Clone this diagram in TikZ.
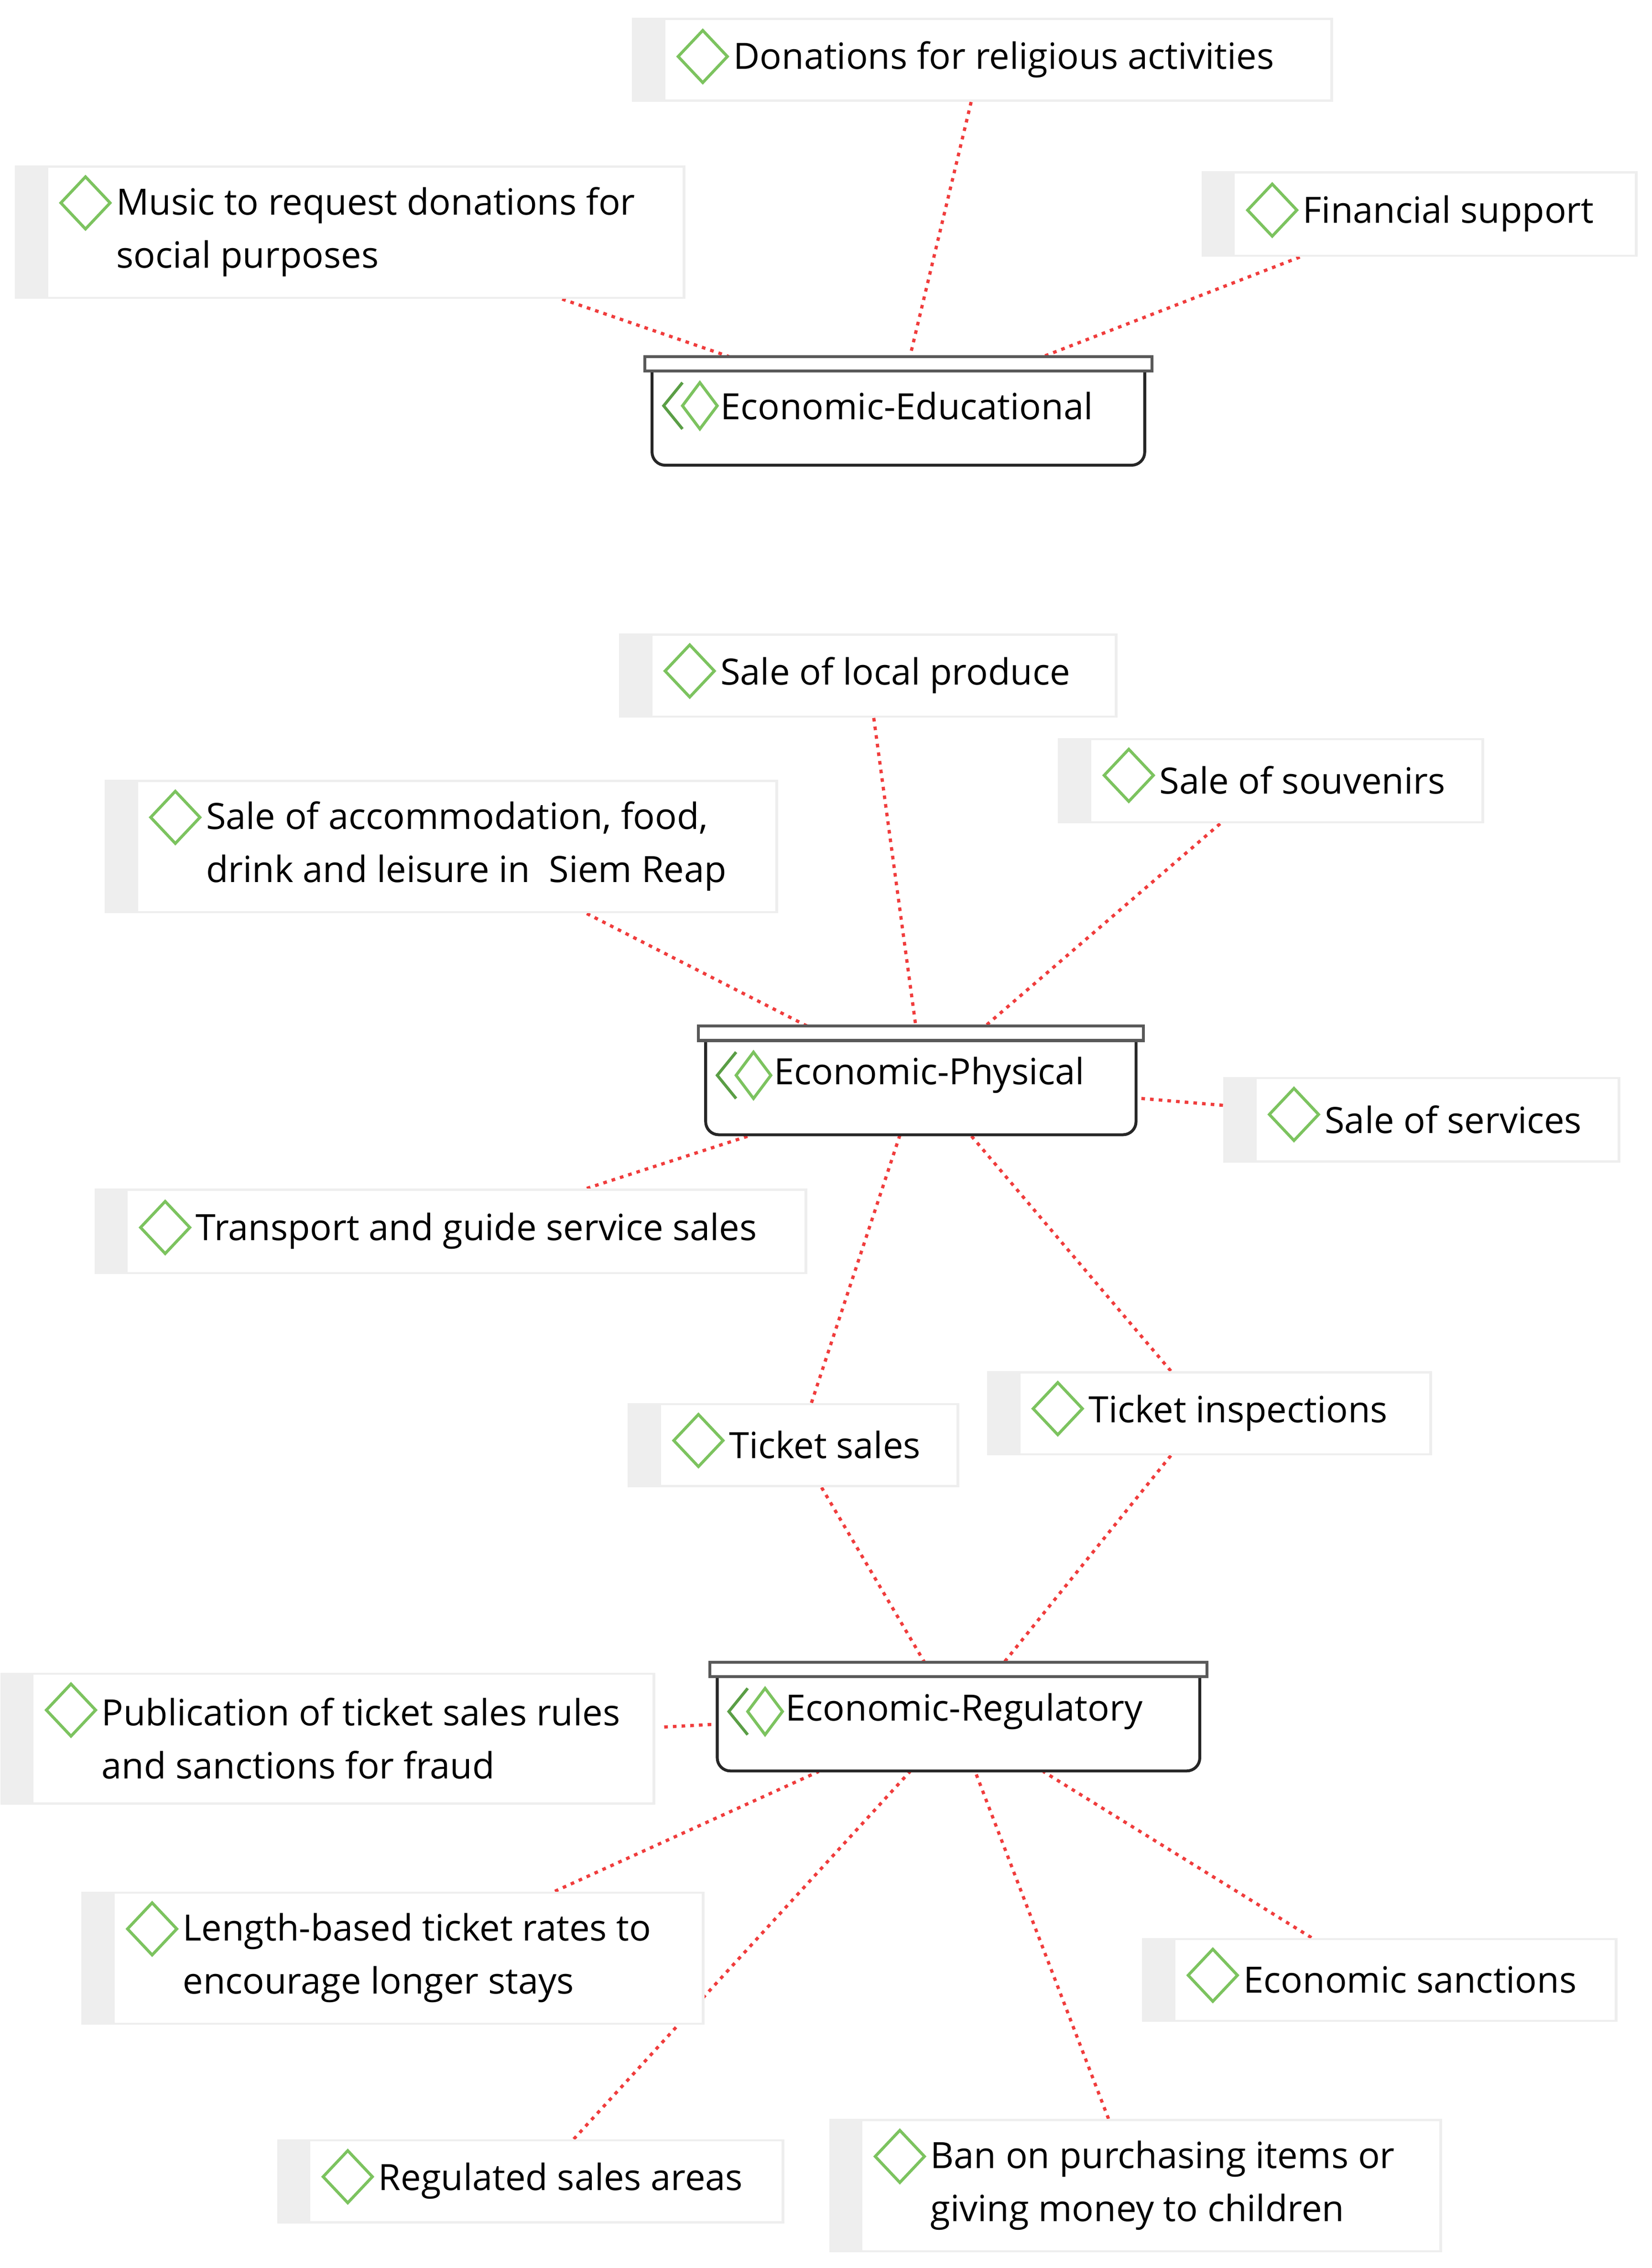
\documentclass[tikz,border=0pt]{standalone}
\usepackage{fontspec}
\setmainfont{Open Sans}
\usetikzlibrary{backgrounds}
\pgfdeclarelayer{back}
\pgfsetlayers{back,background,main}
\definecolor{lg}{HTML}{EEEEEE}
\definecolor{gr}{HTML}{7CC35F}
\definecolor{dg}{HTML}{5A9E45}
\definecolor{rd}{HTML}{F03C3C}
\tikzset{
  bg/.style={fill=lg,draw=none,inner sep=0pt,anchor=north west},
  wt/.style={fill=white,draw=none,inner sep=0pt,anchor=north west},
  lbl/.style={inner sep=0pt,anchor=west,align=left,font=\fontsize{25}{36.5}\selectfont},
  dia/.style={draw=gr,line width=2pt},
  conn/.style={draw=rd,line width=2.2pt,dash pattern=on 2.5pt off 3.5pt},
  bar/.style={fill=white,draw=gray!70!black,line width=2pt},
  body/.style={fill=white,draw=black!85,line width=2pt,rounded corners=9pt}
}
\newcommand\mydia[2]{\draw[dia] (#1-17,#2) -- (#1,#2-18) -- (#1+17,#2) -- (#1,#2+18) -- cycle;}
% name, x1,y1,x2,y2, diamond y, text
\newcommand\leaf[7]{%
  \node[bg,minimum width=#4-#2,minimum height=#5-#3] (#1) at (#2,#3) {};
  \node[wt,minimum width=#4-#2-25,minimum height=#5-#3-3] at (#2+23,#3+1.5) {};
  \mydia{#2+49}{#6}
  \node[lbl] (#1t) at (#2+70,{(#3+#5)/2}) {#7};
}
% name, x1, x2 (bar), y top, text
\newcommand\grp[5]{%
  \draw[body] (#2+5,#4+8) -- (#2+5,#4+75) -- (#3-5,#4+75) -- (#3-5,#4+8);
  \draw[bar] (#2,#4) rectangle (#3,#4+10);
  \node[inner sep=0pt,minimum width=#3-#2-10,minimum height=75,anchor=north west] (#1) at (#2+5,#4) {};
  \draw[draw=dg,line width=2pt] (#2+26,#4+18) -- (#2+13,#4+34) -- (#2+26,#4+50);
  \draw[dia] (#2+26,#4+34) -- (#2+38,#4+18) -- (#2+50,#4+34) -- (#2+38,#4+50) -- cycle;
  \node[lbl] (#1t) at (#2+52,#4+34) {#5};
}
\begin{document}
\begin{tikzpicture}[x=1pt,y=-1pt]
\begin{pgfonlayer}{back}
\fill[white] (0,0) rectangle (1140,1565);
\end{pgfonlayer}
\useasboundingbox (0,0) rectangle (1140,1565);
\leaf{don}{436}{12}{920}{70}{39}{Donations for religious activities}
\leaf{mus}{10}{114}{473}{206}{140}{Music to request donations for\\social purposes}
\leaf{fin}{829}{118}{1130}{177}{145}{Financial support}
\grp{edu}{445}{795}{246}{Economic-Educational}
\leaf{loc}{427}{437}{771}{495}{463}{Sale of local produce}
\leaf{acc}{72}{538}{537}{630}{564}{Sale of accommodation, food,\\drink and leisure in\ \ Siem Reap}
\leaf{sou}{730}{509}{1024}{568}{535}{Sale of souvenirs}
\grp{phy}{482}{789}{708}{Economic-Physical}
\leaf{ser}{844}{743}{1118}{802}{769}{Sale of services}
\leaf{tra}{65}{820}{557}{879}{847}{Transport and guide service sales}
\leaf{tsa}{433}{968}{662}{1026}{994}{Ticket sales}
\leaf{tin}{681}{946}{988}{1004}{972}{Ticket inspections}
\grp{reg}{490}{833}{1147}{Economic-Regulatory}
\leaf{pub}{0}{1154}{452}{1245}{1180}{Publication of ticket sales rules\\and sanctions for fraud}
\leaf{rsa}{191}{1476}{541}{1534}{1502}{Regulated sales areas}
\leaf{len}{56}{1305}{486}{1397}{1331}{Length-based ticket rates to\\encourage longer stays}
\leaf{san}{788}{1337}{1116}{1395}{1363}{Economic sanctions}
\leaf{ban}{572}{1462}{995}{1554}{1488}{Ban on purchasing items or\\giving money to children}
\begin{scope}[on background layer]
\draw[conn] ([xshift=-8pt]don.south) -- ([xshift=178pt]edu.north west);
\draw[conn] ([xshift=378pt]mus.south west) -- ([xshift=53pt]edu.north west);
\draw[conn] ([xshift=68pt]fin.south west) -- ([xshift=270pt]edu.north west);
\draw[conn] ([xshift=176pt]loc.south west) -- ([xshift=145pt]phy.north west);
\draw[conn] ([xshift=333pt]acc.south west) -- ([xshift=70pt]phy.north west);
\draw[conn] ([xshift=112pt]sou.south west) -- ([xshift=193pt]phy.north west);
\draw[conn] ([yshift=10pt]ser.west) -- ([yshift=-12pt]phy.east);
\draw[conn] ([xshift=340pt]tra.north west) -- ([xshift=31pt]phy.south west);
\draw[conn] ([xshift=127pt]tsa.north west) -- ([xshift=134pt]phy.south west);
\draw[conn] ([xshift=127pt]tin.north west) -- ([xshift=183pt]phy.south west);
\draw[conn] ([xshift=134pt]tsa.south west) -- ([xshift=143pt]reg.north west);
\draw[conn] ([xshift=127pt]tin.south west) -- ([xshift=198pt]reg.north west);
\draw[conn] ([yshift=8pt,xshift=6pt]pub.east) -- ([yshift=-5pt]reg.west);
\draw[conn] ([xshift=327pt]len.north west) -- ([xshift=70pt]reg.south west);
\draw[conn] ([xshift=205pt]rsa.north west) -- ([xshift=133pt]reg.south west);
\draw[conn] ([xshift=117pt]san.north west) -- ([xshift=225pt]reg.south west);
\draw[conn] ([xshift=193pt]ban.north west) -- ([xshift=178pt]reg.south west);
\end{scope}
\end{tikzpicture}
\end{document}
